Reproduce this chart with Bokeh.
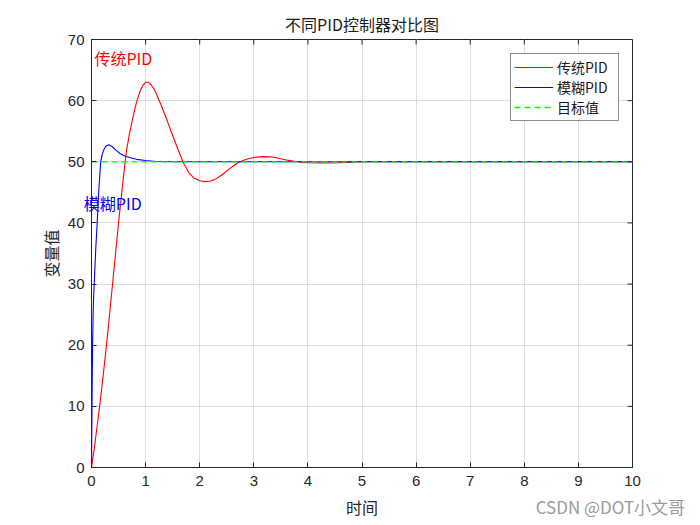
import math
from bokeh.plotting import figure
from bokeh.models import (Label, Legend, LegendItem, FixedTicker,
                          Range1d, ColumnDataSource)
from bokeh.core.properties import value
from bokeh.embed import file_html
from bokeh.resources import INLINE

# ---- data ----
t_pid = [0, 0.05, 0.1, 0.15, 0.2, 0.25, 0.3, 0.35, 0.4, 0.45, 0.5, 0.55, 0.6,
         0.65, 0.7, 0.75, 0.8, 0.85, 0.9, 0.95, 1.0, 1.05, 1.1, 1.15, 1.2,
         1.3, 1.4, 1.5, 1.6, 1.7, 1.8, 1.9, 2.0, 2.1, 2.2, 2.3, 2.4, 2.5,
         2.6, 2.7, 2.8, 2.9, 3.0, 3.1, 3.2, 3.3, 3.4, 3.5, 3.6, 3.7, 3.8,
         3.9, 4.0, 4.2, 4.4, 4.6, 4.8, 5.0, 5.5, 6.0, 7.0, 8.0, 9.0, 10.0]
y_pid = [0, 3.0, 6.5, 10.0, 13.8, 17.8, 22.0, 26.5, 31.0, 35.5, 40.0, 44.2,
         48.3, 52.0, 54.5, 56.6, 58.6, 60.3, 61.6, 62.5, 63.0, 63.0, 62.6,
         62.0, 61.1, 59.0, 56.7, 54.3, 52.0, 49.8, 48.2, 47.3, 46.9, 46.75,
         46.85, 47.2, 47.8, 48.5, 49.2, 49.8, 50.2, 50.5, 50.7, 50.8, 50.85,
         50.8, 50.7, 50.5, 50.3, 50.15, 50.0, 49.9, 49.85, 49.8, 49.8, 49.85,
         49.95, 50.0, 50.02, 50.0, 50.0, 50.0, 50.0, 50.0]

t_fuzzy = [0, 0.01, 0.02, 0.03, 0.04, 0.055, 0.08, 0.105, 0.135, 0.17, 0.2,
           0.23, 0.27, 0.32, 0.38, 0.45, 0.52, 0.6, 0.7, 0.83, 1.0, 1.2, 1.5,
           2.0, 4.0, 6.0, 8.0, 10.0]
y_fuzzy = [0, 11.0, 20.0, 25.0, 28.0, 31.0, 36.0, 40.0, 45.3, 50.0, 51.3,
           52.0, 52.6, 52.8, 52.5, 51.9, 51.4, 51.0, 50.7, 50.4, 50.2, 50.05,
           50.0, 50.0, 50.0, 50.0, 50.0, 50.0]

t_target = [0, 10]
y_target = [50, 50]

x_ticks = [0, 1, 2, 3, 4, 5, 6, 7, 8, 9, 10]
y_ticks = [0, 10, 20, 30, 40, 50, 60, 70]

series_labels = ["传统PID", "模糊PID", "目标值"]
title_text = "不同PID控制器对比图"
x_label = "时间"
y_label = "变量值"
watermark = "CSDN @DOT小文哥"

CJK = "Noto Sans CJK SC"
LAT = "Liberation Sans"
AX = "#262626"
X0, X1, Y0, Y1 = 0, 10, 0, 70

p = figure(width=700, height=525, output_backend="svg", toolbar_location=None,
           x_range=Range1d(X0, X1), y_range=Range1d(Y0, Y1),
           min_border_left=91, min_border_right=68, min_border_top=39,
           min_border_bottom=58, background_fill_color="white",
           border_fill_color="white")

p.title.text = title_text
p.title.align = "center"
p.title.text_font = CJK
p.title.text_font_size = "16px"
p.title.text_font_style = "normal"
p.title.text_color = "#1a1a1a"
p.title.standoff = 7

p.outline_line_color = AX
p.outline_line_alpha = 1.0

for ax in (p.xaxis[0], p.yaxis[0]):
    ax.major_tick_in = 5
    ax.major_tick_out = 0
    ax.minor_tick_line_color = None
    ax.axis_line_color = AX
    ax.major_tick_line_color = AX
    ax.major_label_text_font = LAT
    ax.major_label_text_font_size = "15px"
    ax.major_label_text_color = AX
    ax.axis_label_text_font = CJK
    ax.axis_label_text_font_size = "16px"
    ax.axis_label_text_font_style = "normal"
    ax.axis_label_text_color = AX

p.xaxis[0].ticker = FixedTicker(ticks=x_ticks)
p.yaxis[0].ticker = FixedTicker(ticks=y_ticks)
p.xaxis[0].axis_label = x_label
p.yaxis[0].axis_label = y_label
p.xaxis[0].major_label_standoff = 8
p.yaxis[0].major_label_standoff = 7
p.xaxis[0].axis_label_standoff = 6
p.yaxis[0].axis_label_standoff = 2

p.xgrid.ticker = FixedTicker(ticks=x_ticks)
p.ygrid.ticker = FixedTicker(ticks=y_ticks)
p.xgrid.grid_line_color = "#dedede"
p.ygrid.grid_line_color = "#dedede"

# inward tick marks on the top and right borders (box on)
p.ray(x=x_ticks, y=[Y1] * len(x_ticks), length=5, length_units="screen",
      angle=-math.pi / 2, line_color=AX, line_width=1)
p.ray(x=[X1] * len(y_ticks), y=y_ticks, length=5, length_units="screen",
      angle=math.pi, line_color=AX, line_width=1)

src_pid = ColumnDataSource(dict(t=t_pid, y=y_pid))
src_fz = ColumnDataSource(dict(t=t_fuzzy, y=y_fuzzy))
src_tg = ColumnDataSource(dict(t=t_target, y=y_target))

r1 = p.line("t", "y", source=src_pid, line_color="#ff0000", line_width=1.1)
r2 = p.line("t", "y", source=src_fz, line_color="#0000ff", line_width=1.1)
r3 = p.line("t", "y", source=src_tg, line_color="#00ff00", line_width=1.3,
            line_dash="6 4")

legend = Legend(items=[LegendItem(label=series_labels[0], renderers=[r1]),
                       LegendItem(label=series_labels[1], renderers=[r2]),
                       LegendItem(label=series_labels[2], renderers=[r3])],
                location=(419, 346), padding=3, spacing=0, margin=0,
                label_height=20, glyph_height=20, glyph_width=39,
                label_standoff=4, label_width=58,
                label_text_font=CJK, label_text_font_size="14px",
                label_text_color="#1a1a1a",
                border_line_color="#1a1a1a", border_line_width=1,
                background_fill_color="white", background_fill_alpha=1)
p.add_layout(legend)

p.add_layout(Label(x=0.055, y=67.0, text=series_labels[0], text_color="#ff0000",
                   text_font=CJK, text_font_size="16px",
                   text_baseline="middle", text_align="left"))
# reaches left of the axes box: kept in a side panel so it is not clipped
p.add_layout(Label(x=-0.142, y=43.3, text=series_labels[1], text_color="#0000ff",
                   text_font=CJK, text_font_size="16px",
                   text_baseline="middle", text_align="left"), "right")
# watermark below the axes, drawn at overlay level (outside the frame)
p.text(x=[8.21], y=[-6.4], text=[watermark], text_color="#9a9a9a",
       text_font=value(CJK), text_font_size="17px", level="overlay",
       text_baseline="middle", text_align="left")

open("out.html", "w").write(file_html(p, INLINE))
